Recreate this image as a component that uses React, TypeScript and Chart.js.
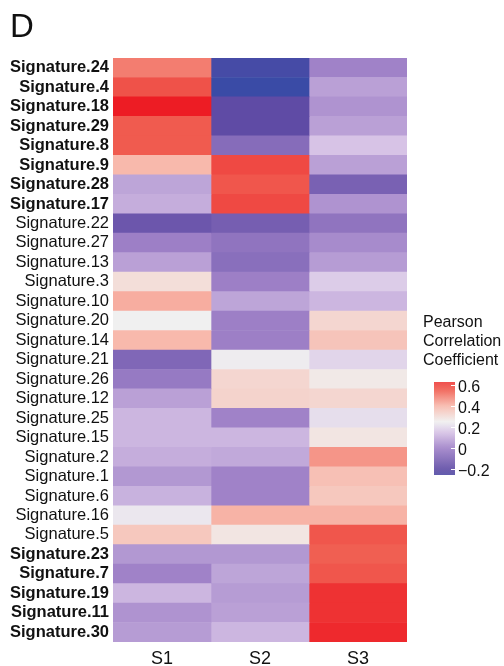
import React, { useEffect, useRef } from "react";
import { Chart, registerables } from "chart.js";

Chart.register(...registerables);

const signatures = [
  "Signature.24", "Signature.4", "Signature.18", "Signature.29", "Signature.8",
  "Signature.9", "Signature.28", "Signature.17", "Signature.22", "Signature.27",
  "Signature.13", "Signature.3", "Signature.10", "Signature.20", "Signature.14",
  "Signature.21", "Signature.26", "Signature.12", "Signature.25", "Signature.15",
  "Signature.2", "Signature.1", "Signature.6", "Signature.16", "Signature.5",
  "Signature.23", "Signature.7", "Signature.19", "Signature.11", "Signature.30",
];

const boldSignatures = [
  "Signature.24", "Signature.4", "Signature.18", "Signature.29", "Signature.8",
  "Signature.9", "Signature.28", "Signature.17", "Signature.23", "Signature.7",
  "Signature.19", "Signature.11", "Signature.30",
];

const columns = ["S1", "S2", "S3"];

const s1Values = [
  0.5, 0.58, 0.7, 0.56, 0.56, 0.4, 0.08, 0.1, -0.16, -0.01,
  0.07, 0.3, 0.42, 0.25, 0.4, -0.1, -0.03, 0.07, 0.12, 0.12,
  0.1, 0.05, 0.11, 0.23, 0.36, 0.05, 0.0, 0.12, 0.04, 0.06,
];
const s2Values = [
  -0.3, -0.35, -0.2, -0.2, -0.08, 0.6, 0.57, 0.6, -0.13, -0.05,
  -0.07, -0.01, 0.08, -0.01, -0.01, 0.24, 0.32, 0.33, 0.0, 0.12,
  0.09, 0.0, 0.0, 0.41, 0.28, 0.05, 0.08, 0.06, 0.07, 0.12,
];
const s3Values = [
  0.0, 0.07, 0.04, 0.07, 0.15, 0.07, -0.12, 0.04, -0.05, 0.02,
  0.06, 0.17, 0.12, 0.32, 0.37, 0.19, 0.27, 0.32, 0.21, 0.28,
  0.46, 0.38, 0.36, 0.41, 0.57, 0.55, 0.57, 0.65, 0.65, 0.67,
];

const legendTicks = [0.6, 0.4, 0.2, 0, -0.2];
const legendTitle = ["Pearson", "Correlation", "Coefficient"];
const panelLabel = "D";

const FONT = '"Liberation Sans", Arial, sans-serif';

const colorStops: [number, number[]][] = [
  [-0.35, [58, 75, 166]],
  [-0.2, [95, 75, 165]],
  [0.0, [160, 130, 200]],
  [0.15, [215, 195, 230]],
  [0.25, [240, 240, 240]],
  [0.4, [248, 185, 172]],
  [0.55, [240, 95, 82]],
  [0.7, [237, 28, 36]],
];

function colorFor(v: number): string {
  if (v <= colorStops[0][0]) {
    const c = colorStops[0][1];
    return `rgb(${c[0]},${c[1]},${c[2]})`;
  }
  for (let i = 1; i < colorStops.length; i++) {
    const [v1, c1] = colorStops[i];
    const [v0, c0] = colorStops[i - 1];
    if (v <= v1) {
      const t = (v - v0) / (v1 - v0);
      const c = c0.map((x, k) => Math.round(x + (c1[k] - x) * t));
      return `rgb(${c[0]},${c[1]},${c[2]})`;
    }
  }
  const c = colorStops[colorStops.length - 1][1];
  return `rgb(${c[0]},${c[1]},${c[2]})`;
}

const seriesValues = [s1Values, s2Values, s3Values];

const decorPlugin = {
  id: "decor",
  afterDraw(chart: any) {
    const ctx = chart.ctx as CanvasRenderingContext2D;
    ctx.save();
    ctx.fillStyle = "#111";
    ctx.textAlign = "left";
    ctx.textBaseline = "alphabetic";
    ctx.font = `33px ${FONT}`;
    ctx.fillText(panelLabel, 10, 37);

    ctx.font = `16px ${FONT}`;
    legendTitle.forEach((t, i) => ctx.fillText(t, 423, 327 + i * 19));

    const barX = 434;
    const barW = 21;
    const top = 382;
    const bottom = 475;
    const yOf = (v: number) => 385 + (0.6 - v) * 105;
    const vOf = (y: number) => 0.6 - (y - 385) / 105;
    const grad = ctx.createLinearGradient(0, top, 0, bottom);
    const n = 40;
    for (let i = 0; i <= n; i++) {
      const y = top + ((bottom - top) * i) / n;
      grad.addColorStop(i / n, colorFor(vOf(y)));
    }
    ctx.globalAlpha = 0.9;
    ctx.fillStyle = grad;
    ctx.fillRect(barX, top, barW, bottom - top);
    ctx.globalAlpha = 1;

    ctx.strokeStyle = "#fff";
    ctx.lineWidth = 1;
    ctx.fillStyle = "#111";
    ctx.textBaseline = "middle";
    legendTicks.forEach((v) => {
      const y = Math.round(yOf(v)) + 0.5;
      ctx.beginPath();
      ctx.moveTo(barX + barW - 4, y);
      ctx.lineTo(barX + barW, y);
      ctx.stroke();
      const label = v < 0 ? "\u2212" + Math.abs(v).toString() : v.toString();
      ctx.fillText(label, 458, y + 2);
    });
    ctx.restore();
  },
};

export default function App() {
  const ref = useRef<HTMLCanvasElement>(null);

  useEffect(() => {
    if (!ref.current) return;
    const datasets = columns.map((col, ci) => ({
      label: col,
      data: signatures.map(() => [ci, ci + 1]),
      backgroundColor: seriesValues[ci].map((v) => colorFor(v)),
      borderWidth: 0,
      borderSkipped: false,
      barPercentage: 1,
      categoryPercentage: 1,
      grouped: false,
    }));

    const chart = new Chart(ref.current, {
      type: "bar",
      data: { labels: signatures, datasets: datasets as any },
      options: {
        animation: false,
        responsive: false,
        indexAxis: "y",
        layout: { padding: { left: 0, right: 97, top: 58, bottom: 0 } },
        plugins: {
          legend: { display: false },
          tooltip: { enabled: false },
        },
        scales: {
          x: {
            type: "linear",
            min: 0,
            max: 3,
            grid: { display: false, drawTicks: false },
            border: { display: false },
            afterBuildTicks: (scale: any) => {
              scale.ticks = columns.map((_, i) => ({ value: i + 0.5 }));
            },
            afterFit: (scale: any) => {
              scale.height = 24;
            },
            ticks: {
              padding: 6,
              color: "#111",
              font: { family: FONT, size: 18 },
              callback: (_v: any, i: number) => columns[i],
            },
          },
          y: {
            type: "category",
            grid: { display: false, drawTicks: false },
            border: { display: false },
            afterFit: (scale: any) => {
              scale.width = 113;
            },
            ticks: {
              padding: 4,
              color: "#111",
              autoSkip: false,
              font: (c: any) => ({
                family: FONT,
                size: 16.5,
                weight: boldSignatures.includes(signatures[c.index]) ? "bold" : "normal",
              }),
            },
          },
        },
      },
      plugins: [decorPlugin],
    });
    return () => chart.destroy();
  }, []);

  return (
    <div style={{ position: "absolute", left: 0, top: 0, width: 504, height: 666, background: "#fff" }}>
      <canvas ref={ref} width={504} height={666} style={{ display: "block" }} />
    </div>
  );
}
